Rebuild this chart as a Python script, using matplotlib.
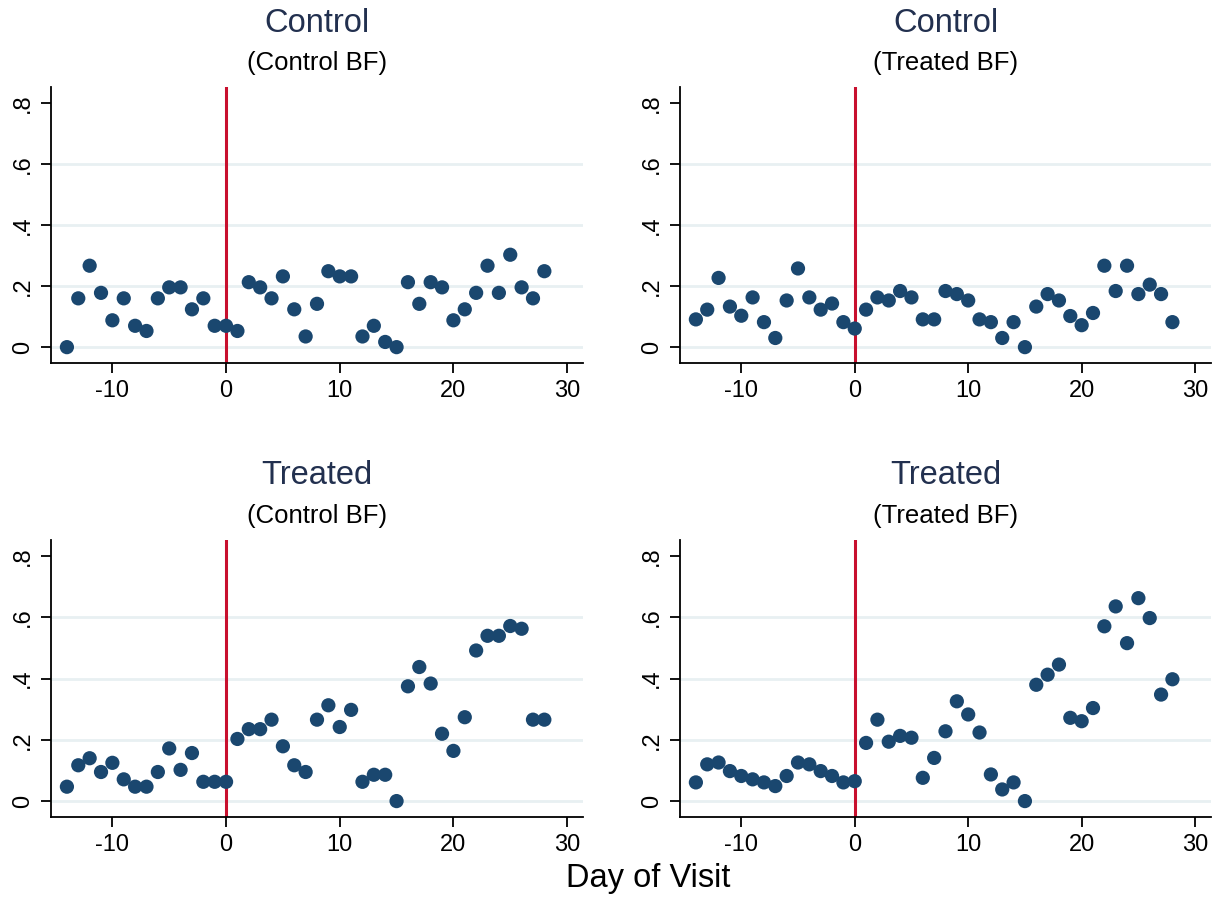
import matplotlib
matplotlib.use("Agg")
import matplotlib.pyplot as plt

plt.rcParams['font.family'] = ['Liberation Sans', 'DejaVu Sans']
plt.rcParams['axes.unicode_minus'] = False

days = list(range(-14, 29))

# share of visits, by day relative to the event
ctrl_ctrlbf = [0.000, 0.160, 0.267, 0.178, 0.088, 0.160, 0.070, 0.053, 0.160, 0.196,
               0.196, 0.124, 0.160, 0.070, 0.070, 0.053, 0.213, 0.196, 0.160, 0.232,
               0.124, 0.035, 0.142, 0.249, 0.232, 0.232, 0.035, 0.070, 0.017, 0.000,
               0.213, 0.142, 0.213, 0.196, 0.088, 0.124, 0.178, 0.267, 0.178, 0.303,
               0.196, 0.160, 0.249]
ctrl_treatbf = [0.091, 0.123, 0.227, 0.133, 0.103, 0.163, 0.082, 0.030, 0.153, 0.258,
                0.163, 0.123, 0.143, 0.082, 0.061, 0.123, 0.163, 0.153, 0.184, 0.163,
                0.091, 0.091, 0.184, 0.174, 0.153, 0.091, 0.082, 0.030, 0.082, 0.000,
                0.133, 0.174, 0.153, 0.102, 0.072, 0.112, 0.267, 0.184, 0.267, 0.174,
                0.205, 0.174, 0.082]
treat_ctrlbf = [0.047, 0.117, 0.140, 0.095, 0.125, 0.071, 0.047, 0.047, 0.095, 0.172,
                0.102, 0.157, 0.063, 0.063, 0.063, 0.203, 0.235, 0.235, 0.266, 0.179,
                0.117, 0.095, 0.266, 0.313, 0.242, 0.298, 0.063, 0.086, 0.086, 0.000,
                0.375, 0.438, 0.384, 0.220, 0.164, 0.274, 0.492, 0.540, 0.540, 0.572,
                0.563, 0.266, 0.266]
treat_treatbf = [0.061, 0.120, 0.126, 0.098, 0.082, 0.071, 0.061, 0.049, 0.082, 0.126,
                 0.120, 0.098, 0.082, 0.061, 0.065, 0.190, 0.266, 0.194, 0.213, 0.207,
                 0.076, 0.141, 0.228, 0.326, 0.283, 0.224, 0.087, 0.038, 0.061, 0.000,
                 0.380, 0.413, 0.446, 0.272, 0.261, 0.304, 0.571, 0.636, 0.516, 0.663,
                 0.598, 0.348, 0.398]

titles = ["Control", "Control", "Treated", "Treated"]
subtitles = ["(Control BF)", "(Treated BF)", "(Control BF)", "(Treated BF)"]
series = [ctrl_ctrlbf, ctrl_treatbf, treat_ctrlbf, treat_treatbf]

yticks = [0, 0.2, 0.4, 0.6, 0.8]
ytick_labels = ["0", ".2", ".4", ".6", ".8"]
xticks = [-10, 0, 10, 20, 30]

W, H = 1224, 901
fig = plt.figure(figsize=(W / 100, H / 100), dpi=100)

# axes boxes in pixels: left, right, top, bottom
boxes = [(51, 583, 87, 363), (680, 1211, 87, 363),
         (51, 583, 540, 817), (680, 1211, 540, 817)]

navy = "#1a476f"
red = "#c8102e"
grid = "#e8f0f2"

for box, vals, t, st in zip(boxes, series, titles, subtitles):
    l, r, tp, bt = box
    ax = fig.add_axes([l / W, 1 - bt / H, (r - l) / W, (bt - tp) / H])
    for g in yticks[:-1]:
        ax.axhline(g, color=grid, lw=2, zorder=0)
    ax.axvline(0, color=red, lw=2.2, zorder=1)
    ax.scatter(days, vals, s=105, color=navy, edgecolors="none", zorder=3)
    ax.set_xlim(-15.4, 31.4)
    ax.set_ylim(-0.052, 0.853)
    ax.set_xticks(xticks)
    ax.set_yticks(yticks)
    ax.set_yticklabels(ytick_labels, rotation=90, va="center")
    ax.tick_params(direction="out", length=7, width=1.3, labelsize=17, pad=5)
    for s in ("top", "right"):
        ax.spines[s].set_visible(False)
    for s in ("left", "bottom"):
        ax.spines[s].set_linewidth(1.3)
    cx = (l + r) / 2 / W
    fig.text(cx, 1 - (tp - 64) / H, t, ha="center", va="center",
             fontsize=23.5, color="#22304f")
    fig.text(cx, 1 - (tp - 24) / H, st, ha="center", va="center",
             fontsize=18.5, color="black")

fig.text(648 / W, 1 - 878 / H, "Day of Visit", ha="center", va="center", fontsize=23.5)

fig.savefig("out.png", dpi=100, facecolor="white")
